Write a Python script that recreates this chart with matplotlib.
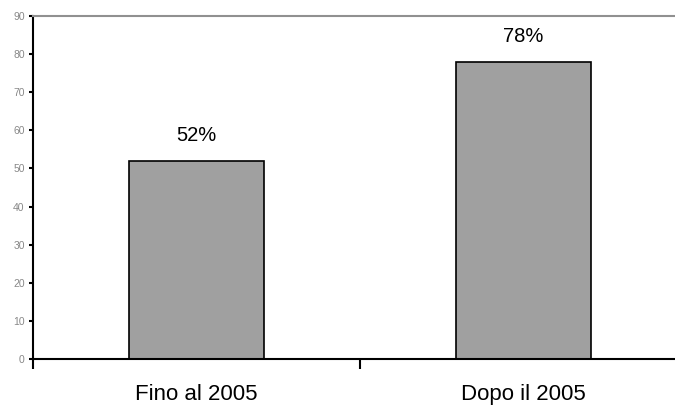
import numpy as np
import matplotlib
matplotlib.use('Agg')
from matplotlib import pyplot as plt

# dati
categorie = ['Fino al 2005', 'Dopo il 2005']
valori = [52, 78]
etichette = ['52%', '78%']

plt.rcParams['font.family'] = ['Liberation Sans', 'DejaVu Sans']

fig = plt.figure(figsize=(6.75, 4.05), dpi=100)
# l'asse esce oltre il bordo destro, come nell'originale
ax = fig.add_axes([33 / 675, 46 / 405, 654 / 675, 343 / 405])

x = np.arange(len(categorie))
ax.bar(x, valori, width=0.41, color='#a0a0a0', edgecolor='black', linewidth=1.2, zorder=2)

for xi, v, lab in zip(x, valori, etichette):
    ax.text(xi, v + 6.6, lab, ha='center', va='center', fontsize=14.5, color='black')

ax.set_xlim(-0.5, 1.5)
ax.set_ylim(0, 90)
ax.set_yticks(range(0, 91, 10))
ax.tick_params(axis='y', labelsize=7.5, labelcolor='#888888', length=3, width=1.5, pad=3)

# tacche tra le categorie, etichette al centro
ax.set_xticks([-0.5, 0.5, 1.5])
ax.set_xticklabels([])
ax.set_xticks(x, minor=True)
ax.set_xticklabels(categorie, minor=True, fontsize=16)
ax.tick_params(axis='x', which='major', length=7, width=1.5)
ax.tick_params(axis='x', which='minor', length=0, pad=18)

ax.spines['left'].set_linewidth(1.5)
ax.spines['bottom'].set_linewidth(1.5)
ax.spines['top'].set_color('#909090')
ax.spines['top'].set_linewidth(1.5)
ax.spines['right'].set_visible(False)

fig.savefig('out.png', dpi=100)
